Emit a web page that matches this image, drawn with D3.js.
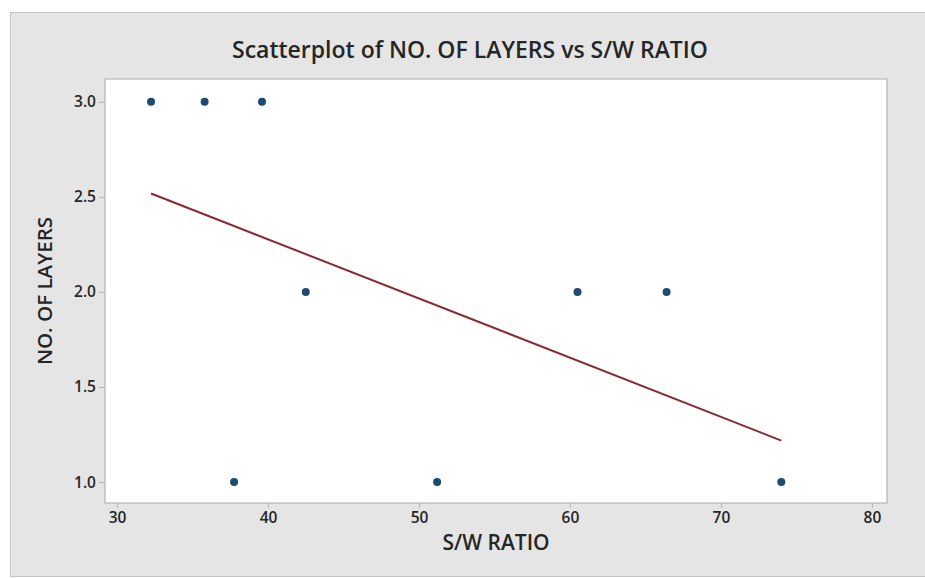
<!DOCTYPE html>
<html>
<head>
<meta charset="utf-8">
<script src="https://cdn.jsdelivr.net/npm/d3@7"></script>
<style>
  body { margin: 0; background: #fff; }
  text { font-family: "Open Sans", "Noto Sans", sans-serif; fill: #262626; }
</style>
</head>
<body>
<svg id="chart" width="925" height="578"></svg>
<script>
// S/W ratio (x) and number of layers (y)
let swRatio = [32.25, 35.8, 39.6, 42.5, 37.75, 51.2, 60.5, 66.4, 74.0];
let layers  = [3, 3, 3, 2, 1, 1, 2, 2, 1];
let xTicks = [30, 40, 50, 60, 70, 80];
let yTicks = [1.0, 1.5, 2.0, 2.5, 3.0];

let title = 'Scatterplot of NO. OF LAYERS vs S/W RATIO';
let xLabel = 'S/W RATIO';
let yLabel = 'NO. OF LAYERS';

let svg = d3.select('#chart');

let plot = { left: 105, right: 887, top: 79, bottom: 503 };

// outer grey panel
svg.append('rect')
   .attr('x', 10.5).attr('y', 12.5)
   .attr('width', 920).attr('height', 564)
   .attr('fill', '#e5e5e5')
   .attr('stroke', '#c4c4c4');

svg.append('rect')
   .attr('x', plot.left).attr('y', plot.top)
   .attr('width', plot.right - plot.left).attr('height', plot.bottom - plot.top)
   .attr('fill', '#fff')
   .attr('stroke', '#a9a9a9');

let x = d3.scaleLinear().domain([29.2, 81.0]).range([plot.left, plot.right]);
let y = d3.scaleLinear().domain([0.89, 3.12]).range([plot.bottom, plot.top]);

let xAxis = svg.append('g')
   .attr('transform', `translate(0,${plot.bottom})`)
   .call(d3.axisBottom(x).tickValues(xTicks).tickFormat(d3.format('d')).tickSize(5).tickPadding(4));

let yAxis = svg.append('g')
   .attr('transform', `translate(${plot.left},0)`)
   .call(d3.axisLeft(y).tickValues(yTicks).tickFormat(d3.format('.1f')).tickSize(6).tickPadding(3));

[xAxis, yAxis].forEach(g => {
    g.select('.domain').remove();
    g.selectAll('line').attr('stroke', '#b5b5b5');
    g.selectAll('text')
     .attr('font-size', 15.5)
     .attr('font-weight', 600)
     .attr('fill', '#2e2e2e')
     .style('font-family', '"Open Sans", sans-serif');
});

// least squares fit line
let mx = d3.mean(swRatio), my = d3.mean(layers);
let sxy = d3.sum(swRatio, (v, i) => (v - mx) * (layers[i] - my));
let sxx = d3.sum(swRatio, v => (v - mx) * (v - mx));
let slope = sxy / sxx;
let icpt = my - slope * mx;
let ext = d3.extent(swRatio);

svg.append('line')
   .attr('x1', x(ext[0])).attr('y1', y(icpt + slope * ext[0]))
   .attr('x2', x(ext[1])).attr('y2', y(icpt + slope * ext[1]))
   .attr('stroke', '#8a2a2e')
   .attr('stroke-width', 2);

svg.append('g')
   .selectAll('circle')
   .data(swRatio)
   .enter().append('circle')
   .attr('cx', d => x(d))
   .attr('cy', (d, i) => y(layers[i]))
   .attr('r', 4)
   .attr('fill', '#1d4a6e');

svg.append('text')
   .attr('x', 470).attr('y', 58)
   .attr('text-anchor', 'middle')
   .attr('font-size', 23)
   .attr('font-weight', 600)
   .text(title);

svg.append('text')
   .attr('x', (plot.left + plot.right) / 2).attr('y', 550)
   .attr('text-anchor', 'middle')
   .attr('font-size', 21)
   .attr('font-weight', 600)
   .text(xLabel);

svg.append('text')
   .attr('transform', `translate(52,${(plot.top + plot.bottom) / 2}) rotate(-90)`)
   .attr('text-anchor', 'middle')
   .attr('font-size', 20.5)
   .attr('font-weight', 600)
   .text(yLabel);
</script>
</body>
</html>
